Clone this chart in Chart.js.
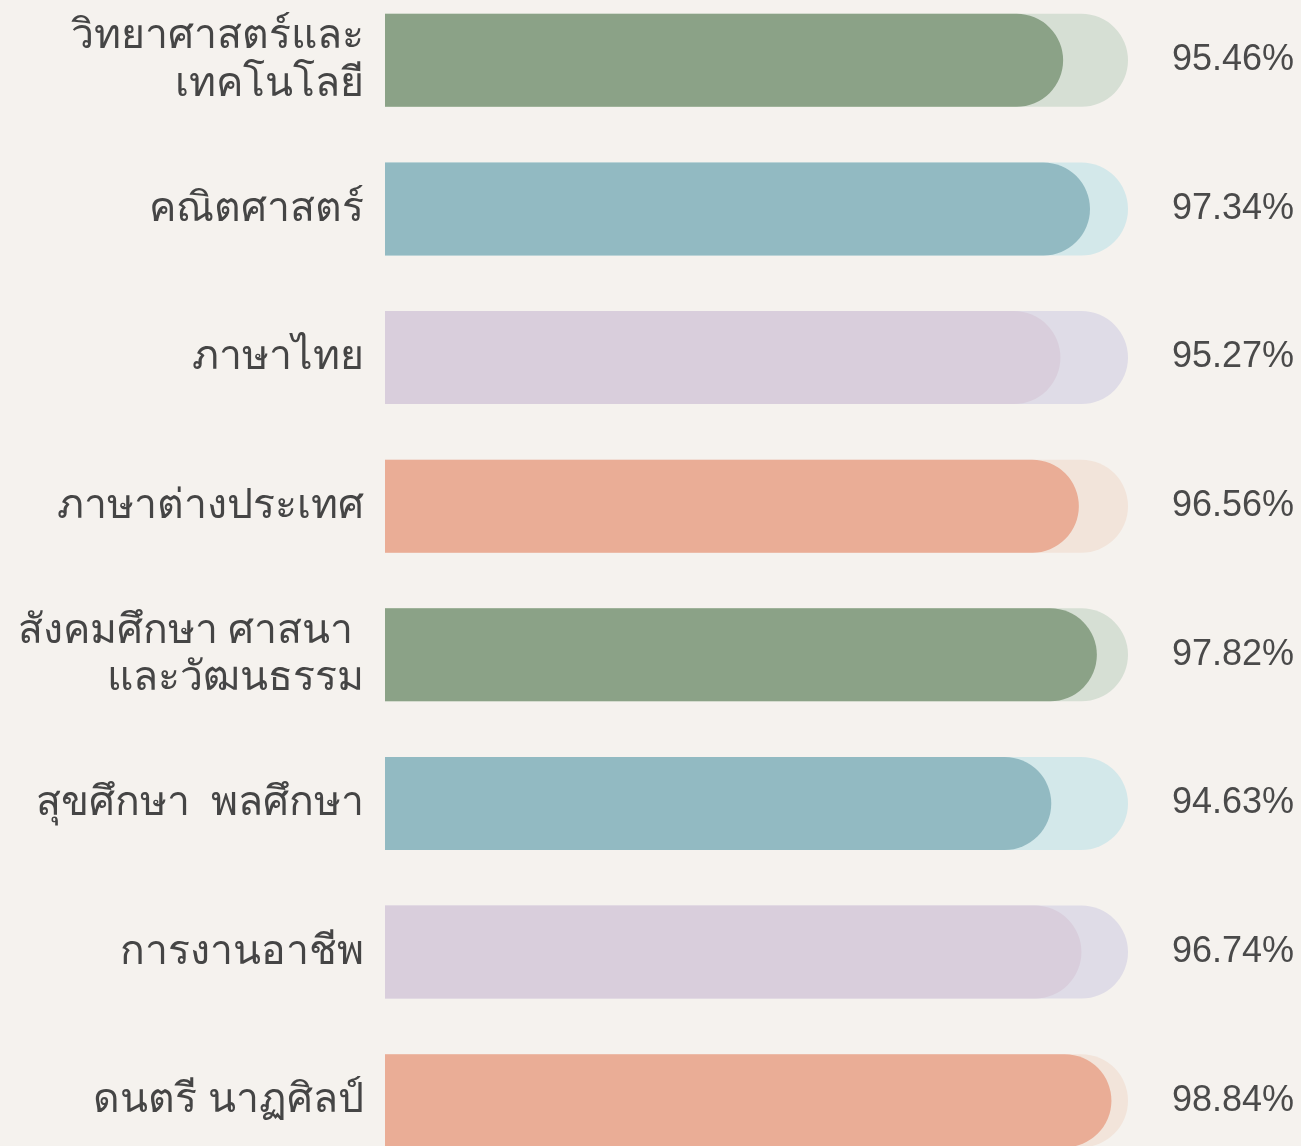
<!DOCTYPE html>
<html>
<head>
<meta charset="utf-8">
<script src="https://cdn.jsdelivr.net/npm/chart.js@4.4.1/dist/chart.umd.min.js"></script>
<style>
    html, body { margin: 0; padding: 0; background: #f5f2ee; overflow: hidden; }
    #wrap { position: absolute; left: 0; top: -14px; width: 1301px; height: 1189px; }
</style>
</head>
<body>
<div id="wrap"><canvas id="chartSubjects"></canvas></div>
<script>
    const subjects = [
        ["วิทยาศาสตร์และ", "เทคโนโลยี"],
        "คณิตศาสตร์",
        "ภาษาไทย",
        "ภาษาต่างประเทศ",
        ["สังคมศึกษา ศาสนา ", "และวัฒนธรรม"],
        "สุขศึกษา  พลศึกษา",
        "การงานอาชีพ",
        "ดนตรี นาฏศิลป์"
    ];
    const percents = [95.46, 97.34, 95.27, 96.56, 97.82, 94.63, 96.74, 98.84];
    const fullScale = [100, 100, 100, 100, 100, 100, 100, 100];
    const percentLabels = percents.map(v => v.toFixed(2) + "%");

    const barColors = ["#8ba287", "#92bac2", "#d9cedc", "#eaad96", "#8ba287", "#92bac2", "#d9cedc", "#eaad96"];
    const trackColors = ["#d6dfd4", "#d3e8ea", "#dfdce7", "#f2e4da", "#d6dfd4", "#d3e8ea", "#dfdce7", "#f2e4da"];

    const ctx = document.getElementById("chartSubjects").getContext("2d");

    // drop the extra top/bottom room chart.js keeps for the tick labels
    function noLabelPadding(scale) {
        scale.paddingTop = 0;
        scale.paddingBottom = 0;
    }

    new Chart(ctx, {
        type: "bar",
        data: {
            labels: subjects,
            datasets: [
                {
                    label: "score",
                    data: percents,
                    backgroundColor: barColors,
                    borderRadius: 100,
                    grouped: false,
                    order: 0,
                    barPercentage: 1,
                    categoryPercentage: 0.626
                },
                {
                    label: "track",
                    data: fullScale,
                    backgroundColor: trackColors,
                    borderRadius: 100,
                    grouped: false,
                    order: 1,
                    barPercentage: 1,
                    categoryPercentage: 0.626
                }
            ]
        },
        options: {
            indexAxis: "y",
            responsive: true,
            maintainAspectRatio: false,
            animation: false,
            layout: { padding: 0 },
            plugins: {
                legend: { display: false },
                tooltip: { enabled: false }
            },
            scales: {
                x: {
                    display: false,
                    min: 48,
                    max: 100
                },
                y: {
                    position: "left",
                    grid: { display: false },
                    border: { display: false },
                    ticks: {
                        color: "#454545",
                        padding: 13,
                        font: { family: "'Noto Sans', sans-serif", size: 41, lineHeight: 1.15 }
                    },
                    afterFit(scale) {
                        scale.width = 385;
                        noLabelPadding(scale);
                    }
                },
                yr: {
                    type: "category",
                    position: "right",
                    labels: percentLabels,
                    grid: { display: false },
                    border: { display: false },
                    ticks: {
                        color: "#4a4a4a",
                        padding: 36,
                        font: { family: "'Liberation Sans', Arial, sans-serif", size: 36 }
                    },
                    afterFit(scale) {
                        scale.width = 173;
                        noLabelPadding(scale);
                    }
                }
            }
        }
    });
</script>
</body>
</html>
